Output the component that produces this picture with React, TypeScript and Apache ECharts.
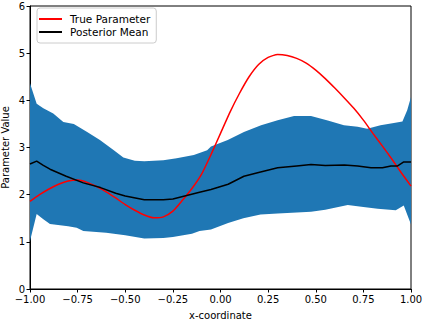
import React, { useEffect, useRef } from "react";
import * as echarts from "echarts";

const xTicks = [-1, -0.75, -0.5, -0.25, 0, 0.25, 0.5, 0.75, 1];
const yTicks = [0, 1, 2, 3, 4, 5, 6];

const trueX = [-1, -0.95, -0.9, -0.85, -0.8, -0.75, -0.7, -0.65, -0.6, -0.55, -0.5, -0.45, -0.4, -0.35, -0.3, -0.25, -0.2, -0.15, -0.1, -0.05, 0, 0.05, 0.1, 0.15, 0.2, 0.25, 0.3, 0.35, 0.4, 0.45, 0.5, 0.55, 0.6, 0.65, 0.7, 0.75, 0.8, 0.85, 0.9, 0.95, 1.0];
const trueY = [1.86, 2.0, 2.12, 2.22, 2.29, 2.31, 2.26, 2.17, 2.06, 1.93, 1.79, 1.67, 1.57, 1.51, 1.53, 1.65, 1.88, 2.13, 2.43, 2.85, 3.3, 3.75, 4.15, 4.5, 4.76, 4.91, 4.97, 4.95, 4.89, 4.79, 4.64, 4.46, 4.26, 4.05, 3.83, 3.58, 3.3, 3.03, 2.75, 2.46, 2.18];

const meanX = [-1, -0.965, -0.93, -0.895, -0.81, -0.72, -0.63, -0.55, -0.5, -0.4, -0.3, -0.25, -0.11, -0.05, 0.04, 0.123, 0.2, 0.3, 0.4, 0.475, 0.55, 0.65, 0.72, 0.79, 0.85, 0.895, 0.93, 0.96, 1.0];
const meanY = [2.65, 2.71, 2.62, 2.54, 2.39, 2.25, 2.15, 2.03, 1.97, 1.89, 1.89, 1.91, 2.05, 2.11, 2.22, 2.39, 2.47, 2.57, 2.61, 2.64, 2.62, 2.63, 2.61, 2.57, 2.57, 2.61, 2.61, 2.69, 2.69];

const upperX = [-1, -0.965, -0.93, -0.878, -0.825, -0.77, -0.7, -0.633, -0.56, -0.51, -0.45, -0.4, -0.3, -0.23, -0.14, -0.07, -0.05, 0.038, 0.123, 0.213, 0.3, 0.386, 0.475, 0.563, 0.648, 0.72, 0.77, 0.84, 0.91, 0.955, 0.98, 1.0];
const upperY = [4.36, 3.93, 3.83, 3.72, 3.54, 3.5, 3.33, 3.16, 2.94, 2.79, 2.72, 2.71, 2.73, 2.77, 2.84, 2.94, 3.02, 3.16, 3.33, 3.47, 3.58, 3.67, 3.67, 3.57, 3.47, 3.44, 3.4, 3.47, 3.52, 3.55, 3.79, 4.07];

const lowerX = [-1, -0.965, -0.93, -0.895, -0.8, -0.755, -0.72, -0.6, -0.5, -0.4, -0.3, -0.25, -0.15, -0.11, -0.05, 0.04, 0.12, 0.21, 0.3, 0.4, 0.475, 0.55, 0.668, 0.75, 0.825, 0.92, 0.962, 1.0];
const lowerY = [1.02, 1.59, 1.48, 1.38, 1.33, 1.3, 1.23, 1.19, 1.14, 1.07, 1.08, 1.1, 1.17, 1.23, 1.26, 1.4, 1.5, 1.58, 1.6, 1.62, 1.64, 1.68, 1.78, 1.74, 1.7, 1.67, 1.77, 1.37];

const zip = (xs: number[], ys: number[]) => xs.map((x, i) => [x, ys[i]]);

export default function App() {
  const ref = useRef<HTMLDivElement>(null);
  useEffect(() => {
    if (!ref.current) return;
    const chart = echarts.init(ref.current, null, { renderer: "svg" });
    const font = "DejaVu Sans";
    const bandPts = [...zip(upperX, upperY), ...zip(lowerX, lowerY).reverse()];
    chart.setOption({
      animation: false,
      textStyle: { fontFamily: font },
      grid: {
        left: 30,
        right: 12,
        top: 6,
        bottom: 33,
        containLabel: false,
        outerBoundsMode: "none",
        show: true,
        borderColor: "#000",
        borderWidth: 1,
        backgroundColor: "transparent",
      },
      legend: {
        left: 37,
        top: 8,
        orient: "vertical",
        itemWidth: 23,
        itemHeight: 2,
        itemGap: 1,
        padding: [5, 6, 5, 2],
        borderColor: "#cccccc",
        borderWidth: 1,
        borderRadius: 3,
        backgroundColor: "rgba(255,255,255,0.8)",
        textStyle: { fontFamily: font, fontSize: 10.5, color: "#000", lineHeight: 12, padding: [0, 0, 0, 3] },
        data: [
          { name: "True Parameter", icon: "rect" },
          { name: "Posterior Mean", icon: "rect" },
        ],
      },
      xAxis: {
        type: "value",
        min: xTicks[0],
        max: xTicks[xTicks.length - 1],
        interval: 0.25,
        name: "x-coordinate",
        nameLocation: "middle",
        nameGap: 21,
        nameMoveOverlap: false,
        nameTextStyle: { fontFamily: font, fontSize: 10, color: "#000" },
        axisLine: { show: true, onZero: false, lineStyle: { color: "#000", width: 1 } },
        axisTick: { show: true, length: 3.5, lineStyle: { color: "#000" } },
        axisLabel: {
          fontFamily: font,
          fontSize: 10,
          color: "#000",
          margin: 5,
          formatter: (v: number) => (v < 0 ? "\u2212" : "") + Math.abs(v).toFixed(2),
        },
        splitLine: { show: false },
      },
      yAxis: {
        type: "value",
        min: yTicks[0],
        max: yTicks[yTicks.length - 1],
        interval: 1,
        name: "Parameter Value",
        nameLocation: "middle",
        nameGap: 20,
        nameMoveOverlap: false,
        nameTextStyle: { fontFamily: font, fontSize: 10, color: "#000", lineHeight: 10 },
        axisLine: { show: true, onZero: false, lineStyle: { color: "#000", width: 1 } },
        axisTick: { show: true, length: 3.5, lineStyle: { color: "#000" } },
        axisLabel: { fontFamily: font, fontSize: 10, color: "#000", margin: 5 },
        splitLine: { show: false },
      },
      series: [
        {
          type: "custom",
          name: "band",
          data: [[0, 0]],
          silent: true,
          z: 1,
          renderItem: (_params: any, api: any) => ({
            type: "polygon",
            shape: { points: bandPts.map((p) => api.coord(p)) },
            style: { fill: "#1f77b4" },
          }),
        },
        {
          type: "line",
          name: "True Parameter",
          data: zip(trueX, trueY),
          smooth: 0.2,
          showSymbol: false,
          symbol: "none",
          z: 3,
          lineStyle: { color: "#ff0000", width: 1.5 },
          itemStyle: { color: "#ff0000" },
        },
        {
          type: "line",
          name: "Posterior Mean",
          data: zip(meanX, meanY),
          showSymbol: false,
          symbol: "none",
          z: 4,
          lineStyle: { color: "#000000", width: 1.5 },
          itemStyle: { color: "#000000" },
        },
      ],
    });
    return () => chart.dispose();
  }, []);
  return <div ref={ref} style={{ width: 423, height: 322, position: "absolute", left: 0, top: 0 }} />;
}
